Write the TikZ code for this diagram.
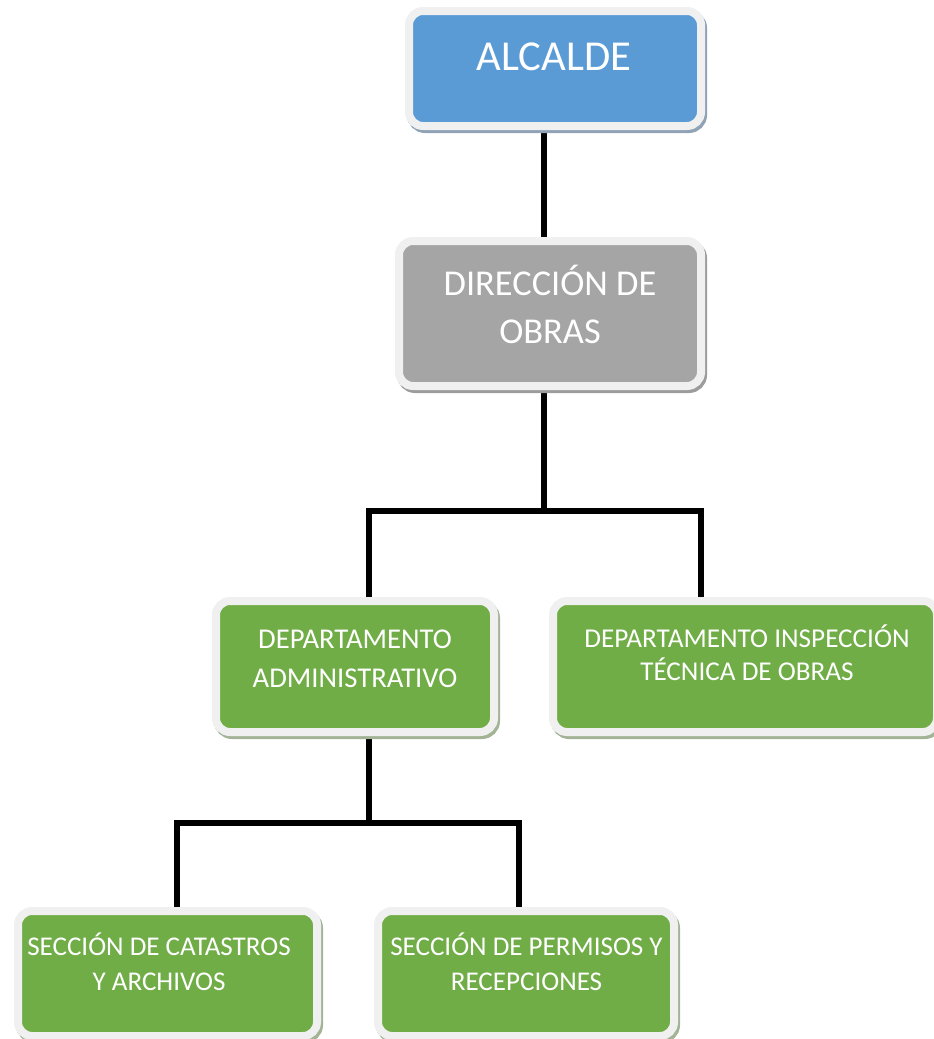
\documentclass[tikz,border=0pt]{standalone}
\usepackage{fontspec}
\setmainfont{Carlito}
\usetikzlibrary{backgrounds}
\definecolor{bluebox}{HTML}{5B9BD5}
\definecolor{greybox}{HTML}{A5A5A5}
\definecolor{greenbox}{HTML}{70AD47}
\definecolor{rimc}{HTML}{F0F0F0}
\definecolor{shblue}{HTML}{8FA2B6}
\definecolor{shgrey}{HTML}{9C9C9C}
\definecolor{shgreen}{HTML}{A3B496}
\begin{document}
\begin{tikzpicture}[x=0.75pt,y=-0.75pt,
  box/.style={rectangle, rounded corners=10.5pt, draw=rimc, line width=6pt, inner sep=0pt,
    preaction={draw=#1, fill=#1, line width=6pt, transform canvas={shift={(1.5pt,-2.25pt)}}}},
  lbl/.style={anchor=base, inner sep=0pt, align=center, text=white},
  conn/.style={line width=4.5pt, black, line join=miter, line cap=butt}]
\useasboundingbox (0,0) rectangle (933,1039);

\node[box=shblue, fill=bluebox, minimum width=219pt, minimum height=86.25pt] (alc) at (555,68.5) {};
\node[box=shgrey, fill=greybox, minimum width=226.5pt, minimum height=108.75pt] (dir) at (550,313.5) {};
\node[box=shgreen, fill=greenbox, minimum width=208.5pt, minimum height=98.25pt] (dadm) at (355,666.5) {};
\node[box=shgreen, fill=greenbox, minimum width=288pt, minimum height=98.25pt] (dinsp) at (745,666.5) {};
\node[box=shgreen, fill=greenbox, minimum width=224.25pt, minimum height=93.75pt] (scat) at (167.5,973.5) {};
\node[box=shgreen, fill=greenbox, minimum width=222pt, minimum height=93.75pt] (sper) at (526,973.5) {};

% anchor=base refers to the last line's baseline
\node[lbl, font={\fontsize{32pt}{36pt}\selectfont}] (alct) at (554,70) {ALCALDE};
\node[lbl, font={\fontsize{27.3pt}{36pt}\selectfont}] (dirt) at (550,343) {DIRECCIÓN DE\\OBRAS};
\node[lbl, font={\fontsize{21.5pt}{29.25pt}\selectfont}] (dadmt) at (355,687) {DEPARTAMENTO\\ADMINISTRATIVO};
\node[lbl, font={\fontsize{20.4pt}{24.75pt}\selectfont}] (dinspt) at (747,680) {DEPARTAMENTO INSPECCIÓN\\TÉCNICA DE OBRAS};
\node[lbl, font={\fontsize{20.3pt}{26.25pt}\selectfont}] (scatt) at (159,990) {SECCIÓN DE CATASTROS\\Y ARCHIVOS};
\node[lbl, font={\fontsize{20.3pt}{26.25pt}\selectfont}] (spert) at (526.5,990) {SECCIÓN DE PERMISOS Y\\RECEPCIONES};

\coordinate (j1) at (544,511);
\coordinate (j1l) at (369,511);
\coordinate (j1r) at (701,511);
\coordinate (j2) at (369,822.5);
\coordinate (j2l) at (176.5,822.5);
\coordinate (j2r) at (519,822.5);

\begin{scope}[on background layer]
\draw[conn] (alc.south -| j1) -- (dir.north -| j1);
\draw[conn] (dir.south -| j1) -- (j1);
\draw[conn] (dadm.north -| j1l) |- (j1) -| (dinsp.north -| j1r);
\draw[conn] (dadm.south -| j2) -- (j2);
\draw[conn] (scat.north -| j2l) |- (j2) -| (sper.north -| j2r);
\end{scope}
\end{tikzpicture}
\end{document}
